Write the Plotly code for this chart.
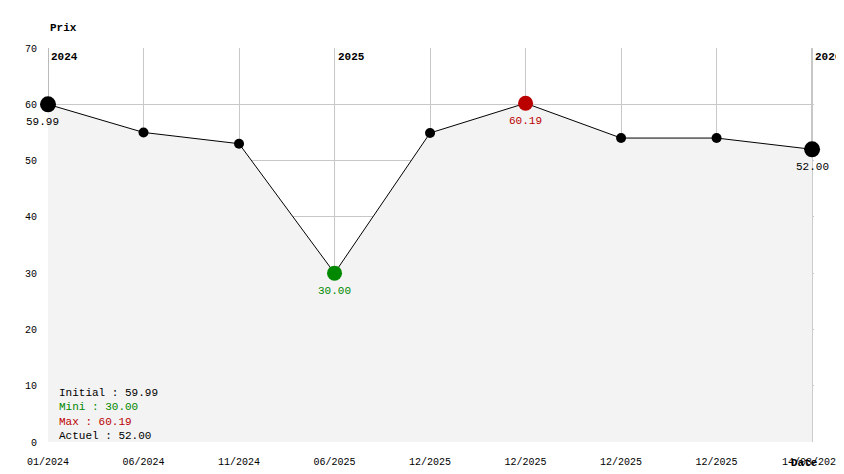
import plotly.graph_objects as go

dates = ['01/2024', '06/2024', '11/2024', '06/2025', '12/2025', '12/2025', '12/2025', '12/2025', '14/03/2026']
prices = [59.99, 55.0, 53.0, 30.00, 54.9, 60.19, 54.0, 54.0, 52.00]
years = ['2024', '2025', '2026']
year_pos = [0, 3, 8]

xs = list(range(len(dates)))
font = 'Liberation Mono, DejaVu Sans Mono, monospace'

fig = go.Figure()
fig.add_trace(go.Scatter(x=xs, y=prices, mode='lines', fill='tozeroy',
                         fillcolor='#f3f3f3', line=dict(color='#000', width=1),
                         hoverinfo='skip'))
sizes = [16 if i in (0, 8) else (15 if i in (3, 5) else 10) for i in xs]
colors = ['#000'] * len(xs)
colors[3] = '#008800'
colors[5] = '#bb0000'
fig.add_trace(go.Scatter(x=xs, y=prices, mode='markers', cliponaxis=False,
                         marker=dict(size=sizes, color=colors, opacity=1, line=dict(width=0))))

labels = [(0, '59.99', '#000'), (3, '30.00', '#008800'), (5, '60.19', '#bb0000'), (8, '52.00', '#000')]
for i, t, c in labels:
    fig.add_annotation(x=i, y=prices[i], text=t, showarrow=False, yshift=-18,
                       xshift=(-6 if i == 0 else 0), font=dict(color=c, size=11, family=font))

for x, yr in zip(year_pos, years):
    fig.add_shape(type='line', x0=x, x1=x, y0=0, y1=70, line=dict(color='#777', width=1), layer='below')
    fig.add_annotation(x=x, y=70, text='<b>' + yr + '</b>', showarrow=False, xanchor='left',
                       yanchor='top', xshift=1, yshift=-1, font=dict(size=11, family=font, color='#000'))

summary = [('Initial : 59.99', '#000'), ('Mini : 30.00', '#008800'),
           ('Max : 60.19', '#bb0000'), ('Actuel : 52.00', '#000')]
for k, (t, c) in enumerate(summary):
    fig.add_annotation(xref='paper', yref='paper', x=0.012, y=0.124 - k * 0.036, text=t,
                       showarrow=False, xanchor='left', yanchor='middle',
                       font=dict(size=11, family=font, color=c))

fig.add_annotation(xref='paper', yref='paper', x=0.0, y=1.0, yshift=28, text='<b>Prix</b>',
                   showarrow=False, xanchor='left', font=dict(size=11, family=font, color='#000'))
fig.add_annotation(xref='paper', yref='paper', x=1.0, y=0, yshift=-29, xshift=6, text='<b>Date</b>',
                   showarrow=False, xanchor='right', font=dict(size=11, family=font, color='#000'))

fig.update_layout(
    width=844, height=474, showlegend=False,
    paper_bgcolor='white', plot_bgcolor='white',
    margin=dict(l=40, r=38, t=40, b=40),
    font=dict(family=font, size=10, color='#000'),
    xaxis=dict(tickvals=xs, ticktext=dates, range=[0, 8.02], showgrid=True, gridcolor='#c8c8c8',
               zeroline=False, showline=False, ticks='', automargin=False, ticklabelstandoff=12),
    yaxis=dict(range=[0, 70], dtick=10, showgrid=True, gridcolor='#c8c8c8', zeroline=False,
               ticks='', showline=False, automargin=False, ticklabelstandoff=10),
)

fig.write_html("out.html")
